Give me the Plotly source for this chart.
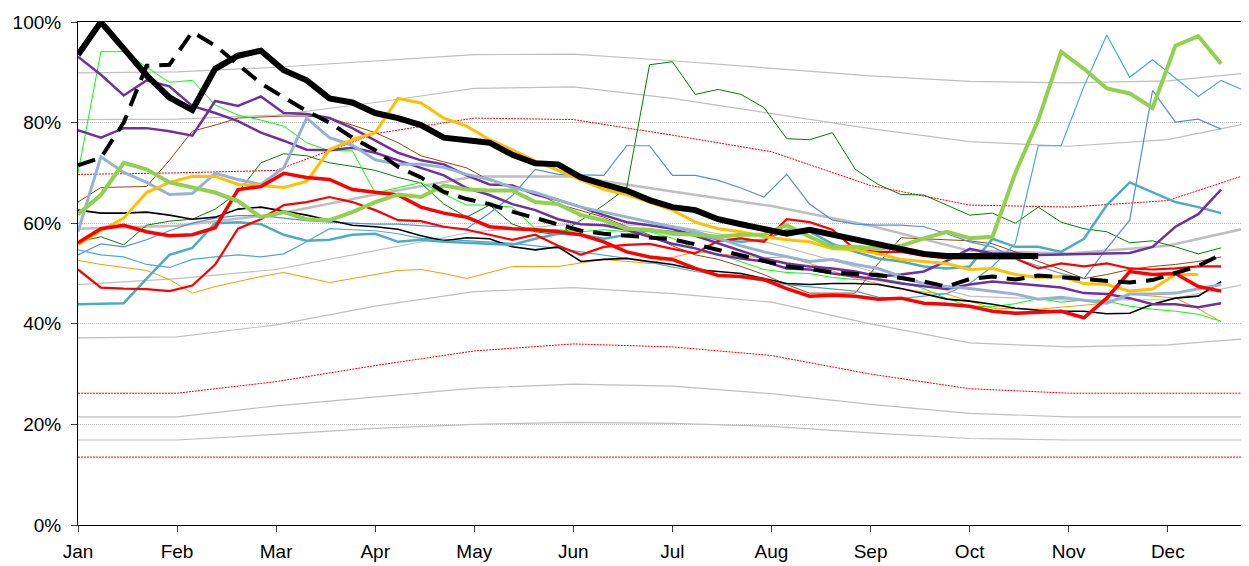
import plotly.graph_objects as go

# ---------------- categories / ticks ----------------
MONTHS = ["Jan", "Feb", "Mar", "Apr", "May", "Jun", "Jul", "Aug", "Sep", "Oct", "Nov", "Dec"]
WEEKS_PER_YEAR = 52
LAST_WEEK = 51
Y_TICKS = [0, 20, 40, 60, 80, 100]

# ---------------- envelope lines (values at each month start + year end) ----------------
env_gray_top = [89.9, 90.1, 91.0, 92.3, 93.5, 93.6, 92.3, 90.8, 89.3, 88.2, 87.9, 88.3, 89.8]
env_gray_2 = [80.6, 80.7, 81.5, 84.0, 86.8, 87.1, 84.8, 81.8, 78.8, 76.2, 75.3, 76.6, 79.7]
env_gray_mid = [58.9, 59.5, 61.8, 65.7, 69.3, 69.3, 66.3, 63.4, 59.5, 54.5, 54.0, 55.5, 58.9]
env_gray_4 = [47.8, 49.0, 50.8, 54.5, 58.3, 59.8, 59.5, 56.0, 50.5, 45.5, 44.7, 44.8, 47.8]
env_gray_5 = [37.2, 37.4, 39.8, 43.5, 46.4, 47.2, 46.0, 44.3, 40.0, 36.2, 35.4, 35.8, 37.0]
env_gray_6 = [21.5, 21.5, 23.7, 25.5, 27.2, 28.0, 27.6, 26.1, 24.0, 22.2, 21.5, 21.5, 21.5]
env_gray_7 = [16.9, 16.9, 18.0, 19.2, 20.0, 20.4, 20.2, 19.6, 18.3, 17.2, 16.9, 16.9, 16.9]
env_red_1 = [69.7, 70.0, 70.5, 77.8, 80.9, 80.6, 77.5, 74.2, 67.5, 63.6, 63.2, 64.5, 69.5]
env_red_2 = [26.2, 26.2, 28.5, 31.7, 34.6, 36.0, 35.4, 33.7, 30.0, 27.1, 26.2, 26.2, 26.2]
env_red_3 = [13.5, 13.5, 13.5, 13.5, 13.5, 13.5, 13.5, 13.5, 13.5, 13.5, 13.5, 13.5, 13.5]

# ---------------- weekly series (week 0 = start of Jan) ----------------
black_thick = [93.5, 100, 94.7, 89.4, 85, 82.5, 90.7, 93.3, 94.3, 90.4, 88.4, 84.8, 84, 81.9, 80.9,
               79.5, 77, 76.6, 76, 73.6, 71.9, 71.7, 69.1, 67.7, 66.5, 64.6, 63.2, 62.6, 60.8, 59.8,
               58.7, 57.9, 58.7, 57.7, 56.7, 55.7, 54.9, 53.9, 53.5, 53.5, 53.7, 53.7, 53.5]

black_dashed = [71.5, 73, 80, 91.3, 91.5, 98, 95.3, 91.5, 87.8, 85, 82.3, 80, 77, 74.5, 71.2, 69.1,
                66.2, 64.8, 63.8, 62.3, 61, 59.6, 58.5, 57.9, 57.5, 57.2, 56.8, 55.8, 54.7, 53.5, 52.5,
                51.4, 50.9, 50.2, 49.9, 49.7, 49.1, 48.4, 47.4, 48.9, 49.4, 48.8, 49.6, 49.2, 48.9,
                48.6, 48.2, 48.7, 50, 51.5, 53.8]

green_thick = [61.8, 65.6, 72.0, 70.7, 68.1, 67.1, 66.1, 64.4, 61.2, 62.2, 60.8, 60.6, 62.2, 64.2,
               65.7, 65.2, 67.5, 66.7, 66.5, 66.5, 64.2, 63.8, 61.6, 60.6, 58.9, 58.7, 57.9, 57.7,
               57.3, 57.7, 57.7, 59.6, 57.3, 55.3, 55.3, 54.9, 55.5, 57.0, 58.3, 57.0, 57.3, 70.0,
               80.5, 94.1, 90.7, 86.8, 85.8, 82.9, 95.3, 97.2, 91.7]

black_thin = [62.6, 62.0, 62.0, 62.2, 61.6, 60.8, 61.2, 62.8, 63.2, 62.4, 61.6, 60.6, 59.6, 59.3,
              58.8, 57.5, 56.5, 57.1, 56.9, 55.3, 54.7, 55.3, 52.4, 52.8, 53.0, 52.4, 51.8, 50.8,
              50.4, 50.0, 49.0, 48.0, 47.8, 48.0, 48.0, 47.8, 47.0, 45.9, 44.9, 44.5, 43.9, 43.1,
              42.7, 42.5, 42.5, 42.0, 42.1, 43.9, 45.1, 45.5, 48.4]

red_thick = [56.1, 58.9, 59.6, 58.3, 57.5, 57.7, 59.1, 66.7, 67.3, 69.9, 69.1, 68.7, 66.7, 66.1,
             65.6, 63.2, 62.0, 61.2, 59.3, 58.9, 58.7, 58.3, 57.7, 56.3, 54.3, 53.3, 52.8, 51.0,
             49.6, 49.4, 48.8, 47.0, 45.5, 45.7, 45.5, 44.9, 45.1, 44.1, 43.9, 43.5, 42.5, 42.1,
             42.3, 42.5, 41.2, 45.1, 50.4, 49.8, 50.0, 47.4, 46.5]

red_medium = [50.8, 47.2, 47.0, 46.9, 46.5, 47.6, 51.8, 58.9, 60.8, 63.6, 64.2, 65.2, 64.2, 62.6,
              60.6, 60.4, 59.3, 58.7, 57.7, 56.7, 57.7, 55.5, 53.7, 55.3, 55.7, 55.9, 54.9, 54.0,
              56.5, 57.0, 56.3, 60.8, 60.2, 58.7, 54.7, 54.3, 54.3, 53.5, 53.0, 53.0, 53.0, 53.0,
              51.0, 52.0, 51.4, 52.0, 51.0, 50.8, 51.0, 51.4, 51.4]

yellow = [55.7, 58.5, 61.0, 66.1, 68.1, 69.3, 69.3, 67.7, 67.5, 67.1, 68.3, 74.6, 76.6, 78.0, 84.8,
          83.9, 80.9, 79.3, 76.6, 74.6, 72.4, 70.5, 68.5, 66.7, 65.7, 64.2, 62.6, 60.2, 58.9, 58.3,
          57.3, 56.7, 56.3, 54.9, 54.7, 53.9, 52.8, 52.4, 52.0, 50.8, 51.0, 49.8, 49.2, 49.4, 48.0,
          47.8, 46.5, 46.9, 49.8, 49.8]

purple_a = [93.1, 89.5, 85.4, 88.4, 87.2, 83.3, 81.9, 80.3, 78.0, 76.4, 74.6, 74.5, 75.0, 74.0,
            72.5, 71.0, 69.5, 67.0, 65.6, 63.8, 62.6, 60.8, 59.8, 59.6, 58.7, 57.3, 55.9, 55.0,
            53.7, 53.0, 52.4, 51.0, 50.8, 50.0, 49.4, 48.8, 48.0, 47.4, 46.9, 47.8, 48.4, 48.0,
            47.6, 47.2, 46.1, 45.9, 45.1, 43.9, 43.9, 43.3, 44.1]

purple_b = [78.5, 77.0, 78.9, 78.9, 78.3, 77.4, 84.3, 83.3, 85.2, 81.9, 81.7, 80.9, 78.9, 76.4,
            74.0, 72.5, 71.7, 69.5, 67.7, 67.5, 65.7, 64.6, 63.2, 61.6, 60.2, 59.6, 58.9, 57.5,
            56.0, 54.5, 53.0, 52.0, 51.4, 51.0, 50.4, 49.4, 49.8, 50.4, 52.5, 54.9, 54.0, 54.0,
            53.7, 53.8, 53.9, 54.0, 54.1, 55.3, 59.3, 61.8, 66.7]

steel_blue = [58.3, 73.2, 70.1, 68.1, 65.7, 65.9, 69.9, 68.7, 67.7, 71.0, 80.9, 77.0, 75.5, 72.6,
              71.7, 71.7, 71.1, 69.7, 68.7, 67.1, 66.1, 64.6, 63.2, 62.2, 61.2, 60.2, 59.3, 58.3,
              57.0, 55.5, 54.3, 53.3, 52.4, 52.8, 51.8, 51.0, 49.4, 48.0, 47.4, 47.0, 46.5, 45.9,
              44.9, 45.3, 44.7, 44.1, 45.9, 45.9, 46.1, 47.0, 47.8]

teal_thick = [43.9, 44.0, 44.1, 49.0, 53.7, 55.1, 60.0, 60.2, 59.8, 57.7, 56.5, 56.7, 57.7, 57.9,
              56.3, 56.7, 56.3, 56.1, 55.9, 55.7, 56.9, 57.9, 57.7, 56.9, 57.7, 58.7, 58.3, 57.9,
              56.7, 56.3, 56.7, 58.7, 58.3, 55.9, 54.3, 53.0, 52.4, 51.4, 51.0, 51.4, 56.9, 55.3,
              55.3, 54.3, 56.9, 63.6, 68.1, 66.1, 64.2, 63.2, 62.0]

cyan_thin = [54.7, 53.7, 53.3, 51.8, 51.2, 52.8, 53.3, 53.7, 53.3, 53.9, 56.3, 58.9, 58.7, 58.5,
             57.9, 57.0, 56.8, 56.5, 56.3, 56.0, 55.5, 55.0, 54.3, 53.7, 53.0, 52.2, 51.3, 50.4,
             49.8, 49.2, 48.5, 47.8, 47.4, 47.0, 46.5, 45.3, 45.0, 45.5, 46.0, 48.0, 51.4, 56.0,
             75.4, 75.4, 87.2, 97.4, 89.0, 92.5, 88.8, 85.2, 88.4, 86.4]

cornflower = [53.7, 55.9, 55.3, 56.7, 58.5, 60.0, 61.0, 61.5, 61.5, 61.0, 60.5, 60.2, 60.0, 59.8,
              59.8, 59.5, 59.2, 58.9, 62.0, 65.5, 70.7, 69.7, 69.6, 69.5, 75.4, 75.4, 69.5, 69.5,
              68.5, 67.0, 65.2, 69.7, 63.8, 60.6, 59.8, 59.6, 59.6, 59.3, 57.9, 56.3, 55.3, 53.0,
              51.5, 50.0, 49.0, 55.0, 60.6, 86.4, 80.1, 80.7, 78.7]

lime = [70.0, 94.1, 94.1, 91.0, 88.0, 88.4, 83.5, 81.5, 80.5, 79.3, 76.0, 74.4, 74.4, 66.0, 67.0,
        68.1, 65.8, 63.6, 63.6, 63.2, 58.9, 58.7, 58.3, 58.7, 58.3, 58.3, 57.0, 55.0, 53.9, 52.4,
        50.8, 50.2, 50.0, 49.2, 48.8, 49.0, 48.3, 47.0, 45.0, 43.5, 43.4, 44.0, 45.0, 44.3, 44.7,
        44.5, 43.5, 42.9, 42.5, 41.9, 40.5]

dark_green = [56.3, 57.3, 55.7, 59.6, 60.4, 60.8, 62.8, 66.1, 72.0, 73.8, 73.4, 72.0, 71.3, 70.5,
              69.1, 68.0, 63.8, 61.2, 63.6, 59.8, 58.3, 57.7, 60.6, 63.6, 67.0, 91.5, 92.1, 85.6,
              86.6, 85.6, 83.0, 76.8, 76.6, 78.0, 70.7, 67.7, 65.7, 65.6, 63.6, 61.6, 62.0, 60.0,
              63.2, 60.2, 58.9, 58.3, 56.1, 56.5, 55.3, 53.9, 55.1]

brown = [64.2, 67.1, 67.2, 67.3, 72.5, 78.3, 79.5, 80.9, 81.1, 81.3, 81.3, 80.9, 79.5, 78.0, 76.0,
         73.4, 72.2, 71.0, 68.5, 67.3, 66.1, 63.8, 62.5, 61.2, 59.3, 57.7, 55.5, 53.7, 52.8, 51.4,
         49.8, 47.8, 46.1, 46.1, 46.1, 52.0, 57.1, 56.9, 56.7, 56.5, 55.9, 54.3, 52.4, 50.8, 49.0,
         49.8, 50.8, 51.4, 51.8, 52.4, 53.3]

orange = [52.6, 51.8, 51.2, 50.6, 48.8, 46.1, 47.4, 48.4, 49.4, 50.2, 49.2, 48.2, 49.0, 49.8, 50.6,
          50.8, 50.0, 49.0, 50.2, 51.4, 51.4, 51.4, 52.1, 52.8, 52.4, 52.0, 53.2, 54.3, 53.9, 53.5,
          53.1, 53.3, 52.0, 50.5, 49.0, 48.0, 47.0, 46.3, 45.9, 44.5, 43.1, 43.0, 42.9, 43.3, 43.7,
          44.1, 45.9, 45.5, 45.1, 43.0, 40.4]

# ---------------- build figure ----------------
month_pos = [m * WEEKS_PER_YEAR / 12 for m in range(len(MONTHS))]
env_x = month_pos + [LAST_WEEK]

fig = go.Figure()


def add_env(vals, color, width, dash=None):
    fig.add_trace(go.Scatter(x=env_x, y=vals, mode="lines",
                             line=dict(color=color, width=width, dash=dash),
                             hoverinfo="skip"))


def add_series(vals, color, width, dash=None):
    fig.add_trace(go.Scatter(x=list(range(len(vals))), y=vals, mode="lines",
                             line=dict(color=color, width=width, dash=dash),
                             hoverinfo="skip"))


GRAY = "#BFBFBF"
RED = "#FF0000"
for v in [env_gray_top, env_gray_2, env_gray_4, env_gray_5, env_gray_6, env_gray_7]:
    add_env(v, GRAY, 1.2)
add_env(env_gray_mid, GRAY, 2.5)
for v in [env_red_1, env_red_2, env_red_3]:
    add_env(v, RED, 1, "2px,1px")

# thin series
add_series(orange, "#FF9900", 1)
add_series(brown, "#984807", 1)
add_series(dark_green, "#008000", 1)
add_series(lime, "#00FF00", 1)
add_series(cornflower, "#558ED5", 1.2)
add_series(cyan_thin, "#4BACC6", 1.2)
add_series(black_thin, "#000000", 1.6)
# thicker series
add_series(teal_thick, "#4BACC6", 2.5)
add_series(red_medium, RED, 2.2)
add_series(purple_a, "#7030A0", 2.5)
add_series(purple_b, "#7030A0", 2.5)
add_series(steel_blue, "#95B3D7", 3)
add_series(yellow, "#FFC000", 3)
add_series(red_thick, RED, 3.5)
add_series(green_thick, "#92D050", 4)
add_series(black_dashed, "#000000", 4, "18px,10px")
add_series(black_thick, "#000000", 6)

fig.update_layout(
    width=1241, height=558,
    margin=dict(l=70, r=4, t=10, b=40),
    plot_bgcolor="white", paper_bgcolor="white",
    showlegend=False,
    font=dict(family="Liberation Sans, Arial, sans-serif", size=19, color="black"),
)
fig.update_xaxes(
    range=[0, LAST_WEEK], tickmode="array", tickvals=month_pos, ticktext=MONTHS,
    ticks="outside", ticklen=6, tickcolor="#404040", ticklabelstandoff=3,
    ticklabeloverflow="allow",
    showline=True, linecolor="black", linewidth=1, mirror=True,
    showgrid=False, zeroline=False,
)
fig.update_yaxes(
    range=[0, 100], tickmode="array", tickvals=Y_TICKS,
    ticktext=[f"{t}%" for t in Y_TICKS],
    ticks="outside", ticklen=6, tickcolor="#404040", ticklabelstandoff=6,
    ticklabeloverflow="allow",
    showline=True, linecolor="black", linewidth=1, mirror=True,
    showgrid=True, gridcolor="#BFBFBF", griddash="1px,1px", gridwidth=1,
    zeroline=False,
)

fig.write_html("out.html")
